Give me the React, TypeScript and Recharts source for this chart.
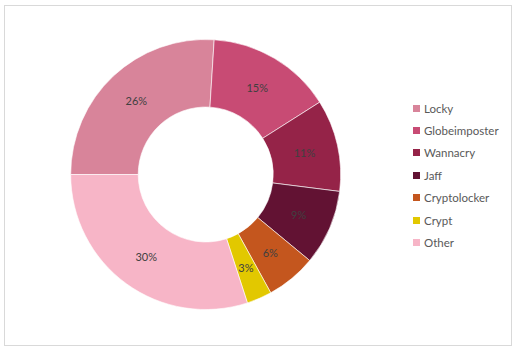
import { Cell, Legend, Pie, PieChart } from 'recharts';

const families = ['Locky', 'Globeimposter', 'Wannacry', 'Jaff', 'Cryptolocker', 'Crypt', 'Other'];
const shares = [26, 15, 11, 9, 6, 3, 30];
const colors = ['#D8849A', '#C84B74', '#952348', '#621233', '#C4561E', '#E2C800', '#F7B5C7'];

const data = families.map((name, i) => ({ name, value: shares[i], color: colors[i] }));

const FONT = 'Lato, "Open Sans", sans-serif';
const RADIAN = Math.PI / 180;

const LEGEND_ITEM_STYLE = {
  display: 'flex',
  alignItems: 'center',
  height: '22.4px',
  fontSize: '11.5px',
  color: '#595959',
  fontFamily: FONT,
};

const LEGEND_DOT_STYLE = {
  width: '7px',
  height: '7px',
  marginRight: '4px',
  flexShrink: 0,
};

function renderLabel(props: any) {
  const { cx, cy, midAngle, innerRadius, outerRadius, value } = props;
  const r = (innerRadius + outerRadius) / 2;
  const x = cx + r * Math.cos(-midAngle * RADIAN);
  const y = cy + r * Math.sin(-midAngle * RADIAN);
  return (
    <text
      x={x}
      y={y}
      fill="#404040"
      fontSize={11}
      fontFamily={FONT}
      textAnchor="middle"
      dominantBaseline="central"
    >
      {`${value}%`}
    </text>
  );
}

function renderLegend() {
  return (
    <div>
      {data.map((d) => (
        <div key={d.name} style={LEGEND_ITEM_STYLE}>
          <div style={{ ...LEGEND_DOT_STYLE, background: d.color }} />
          <span>{d.name}</span>
        </div>
      ))}
    </div>
  );
}

export default function App() {
  return (
    <div style={{ position: 'absolute', left: 0, top: 0, width: 518, height: 352, background: '#fff' }}>
      <div
        style={{
          position: 'absolute',
          left: 4,
          top: 5,
          width: 506,
          height: 339,
          border: '1px solid #D9D9D9',
        }}
      />
      <PieChart
        width={518}
        height={352}
        margin={{ top: 0, right: 0, bottom: 0, left: 0 }}
        style={{ position: 'absolute', left: 0, top: 0 }}
      >
        <Pie
          data={data}
          dataKey="value"
          nameKey="name"
          cx={205.7}
          cy={174.5}
          innerRadius={67.5}
          outerRadius={135}
          startAngle={180}
          endAngle={-180}
          stroke="#fff"
          strokeWidth={0.6}
          label={renderLabel}
          labelLine={false}
          isAnimationActive={false}
        >
          {data.map((d) => (
            <Cell key={d.name} fill={d.color} />
          ))}
        </Pie>
        <Legend
          content={renderLegend}
          layout="vertical"
          wrapperStyle={{ position: 'absolute', left: 413, top: 97, width: 100 }}
        />
      </PieChart>
    </div>
  );
}
